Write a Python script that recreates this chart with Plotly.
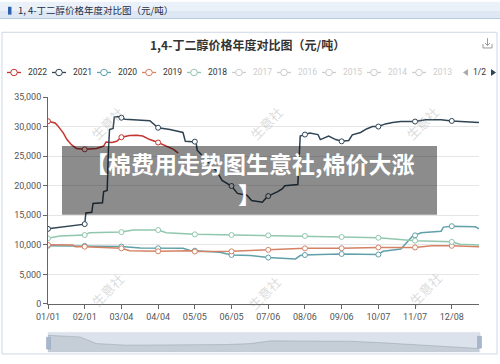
import plotly.graph_objects as go

# ---------------- data ----------------
tick_days = [0, 31, 62, 93, 124, 155, 186, 217, 248, 279, 310, 341]
tick_labels = ["01/01", "02/01", "03/04", "04/04", "05/05", "06/05",
               "07/06", "08/06", "09/06", "10/07", "11/07", "12/08"]
y_ticks = [0, 5000, 10000, 15000, 20000, 25000, 30000, 35000]

days_2022 = [0, 6, 8, 13, 16, 20, 24, 31, 41, 47, 49, 54, 58, 62, 69, 75, 80, 86, 93, 100, 106, 110]
vals_2022 = [30900, 30600, 30200, 28900, 27800, 26900, 26300, 26150, 26300, 26700, 27400, 27300,
             27500, 28200, 28500, 28550, 28400, 27800, 27300, 26700, 26150, 25500]

days_2021 = [0, 18, 31, 32, 37, 38, 46, 47, 50, 51, 52, 55, 56, 59, 62, 65, 86, 92, 93, 103, 114, 116,
             124, 125, 126, 137, 143, 147, 155, 160, 168, 172, 181, 185, 186, 194, 198, 200, 211, 213,
             217, 221, 228, 230, 237, 243, 248, 254, 257, 264, 269, 274, 279, 285, 291, 298, 310, 319,
             332, 341, 364]
vals_2021 = [12700, 13100, 13500, 15400, 15500, 17000, 17100, 19000, 19200, 26000, 29500, 29700,
             31600, 31700, 31500, 31250, 31000, 30000, 29800, 29500, 29000, 27500, 27450, 27400,
             26000, 23700, 22300, 20900, 19950, 18700, 18400, 17500, 17200, 18100, 18250, 19000,
             19500, 20000, 20200, 28400, 28650, 28900, 28650, 27800, 28400, 27800, 27500, 27650,
             28600, 29000, 29600, 30000, 30000, 30450, 30700, 30850, 30850, 31150, 31150, 30950, 30700]

days_2020 = [0, 31, 62, 78, 93, 114, 120, 124, 145, 155, 171, 186, 209, 213, 217, 230, 248, 279,
             283, 298, 303, 308, 310, 315, 332, 334, 341, 361, 364]
vals_2020 = [9850, 9820, 9700, 9450, 9420, 9400, 9050, 9000, 8730, 8280, 8180, 7850, 7620, 8180,
             8280, 8350, 8450, 8350, 8900, 9280, 10400, 11500, 11600, 12050, 12300, 13000, 13150,
             13050, 12700]

days_2019 = [0, 21, 23, 31, 62, 69, 93, 120, 124, 155, 186, 217, 248, 279, 310, 324, 341, 364]
vals_2019 = [10000, 9950, 9680, 9680, 9400, 9000, 8900, 9000, 8870, 8900, 9150, 9400, 9420, 9550,
             9550, 9830, 9830, 9680]

days_2018 = [0, 10, 31, 35, 62, 72, 93, 100, 124, 155, 186, 217, 230, 248, 279, 298, 310, 341, 348, 364]
vals_2018 = [11100, 11500, 11650, 12050, 12150, 12500, 12500, 12050, 11770, 11670, 11600, 11500,
             11500, 11330, 11200, 10950, 10700, 10500, 10100, 9950]

legend_years = ["2022", "2021", "2020", "2019", "2018", "2017", "2016", "2015", "2014", "2013"]
legend_active = [True, True, True, True, True, False, False, False, False, False]
palette = ["#c23531", "#2f4554", "#61a0a8", "#d48265", "#91c7ae"]

slider_days = [0, 27, 41, 66, 151, 171, 188, 255, 283, 340, 364]
slider_vals = [0.85, 0.77, 0.43, 0.35, 0.38, 0.43, 0.57, 0.55, 0.47, 0.27, 0.18]

header_text = "1, 4-丁二醇价格年度对比图（元/吨）"
chart_title = "1,4-丁二醇价格年度对比图（元/吨）"
overlay_lines = ["【棉费用走势图生意社,棉价大涨", "】"]
watermark = "生意社"

# ---------------- geometry helpers ----------------
W, H = 500, 364
ML, MR, MT, MB = 48, 21, 97, 7
PW = W - ML - MR
PH = H - MT - MB


def px(x):
    return (x - ML) / PW


def py(y):
    return (H - MB - y) / PH


def rect(x0, y0, x1, y1, **kw):
    d = dict(type="rect", xref="paper", yref="paper",
             x0=px(x0), x1=px(x1), y0=py(y1), y1=py(y0))
    d.update(kw)
    return d


def line(x0, y0, x1, y1, color, width=1, layer="above"):
    return dict(type="line", xref="paper", yref="paper", x0=px(x0), x1=px(x1),
                y0=py(y0), y1=py(y1), line=dict(color=color, width=width), layer=layer)


CJK = "Noto Sans CJK SC"
NUM = "Roboto"

fig = go.Figure()

series = [("2022", days_2022, vals_2022), ("2021", days_2021, vals_2021),
          ("2020", days_2020, vals_2020), ("2019", days_2019, vals_2019),
          ("2018", days_2018, vals_2018)]

for i, (name, d, v) in enumerate(series):
    col = palette[i]
    fig.add_trace(go.Scatter(x=d, y=v, mode="lines", name=name,
                             line=dict(color=col, width=1.5), hoverinfo="skip"))
    md = [dd for dd in d if dd in tick_days]
    mv = [vv for dd, vv in zip(d, v) if dd in tick_days]
    fig.add_trace(go.Scatter(x=md, y=mv, mode="markers", showlegend=False,
                             marker=dict(symbol="circle", size=5, color="white",
                                         line=dict(color=col, width=1)), hoverinfo="skip"))

# slider data shadow
fig.add_trace(go.Scatter(x=slider_days, y=slider_vals, mode="lines", xaxis="x2", yaxis="y2",
                         fill="tozeroy", fillcolor="rgba(47,69,84,0.13)",
                         line=dict(color="rgba(47,69,84,0.3)", width=0.6), hoverinfo="skip"))

shapes = []
# header bar
shapes.append(rect(0, 0, 500, 9, fillcolor="#eaf1f9", line=dict(width=0), layer="below"))
shapes.append(rect(0, 9, 500, 17, fillcolor="#dde8f4", line=dict(width=0), layer="below"))
shapes.append(line(0, 17, 500, 17, "#b4c8e0", 1, "below"))
shapes.append(rect(8, 5, 11.5, 13, fillcolor="#2f62b0", line=dict(width=0), layer="below"))
# panel
shapes.append(rect(2, 31, 497, 359, fillcolor="white", line=dict(color="#cdd8e5", width=1), layer="below"))
# slider background
shapes.append(rect(48, 337, 480, 357, fillcolor="rgba(167,183,204,0.4)",
                   line=dict(color="#d5dbe3", width=0.5), layer="below"))
shapes.append(rect(46.5, 342, 50.5, 354, fillcolor="#a7b7cc", line=dict(color="#8fa2bb", width=0.5)))
shapes.append(rect(477.5, 341, 481.5, 353, fillcolor="#a7b7cc", line=dict(color="#8fa2bb", width=0.5)))

# download icon
ic = "#9a9a9a"
shapes.append(line(487.5, 37, 487.5, 44.5, ic))
shapes.append(line(485, 42, 487.5, 44.5, ic))
shapes.append(line(490, 42, 487.5, 44.5, ic))
shapes.append(line(483, 43, 483, 47, ic))
shapes.append(line(483, 47, 492, 47, ic))
shapes.append(line(492, 47, 492, 43, ic))

annotations = []
# header and title
annotations.append(dict(text=header_text, xref="paper", yref="paper", x=px(16), y=py(8.5),
                        xanchor="left", yanchor="middle", showarrow=False,
                        font=dict(family=CJK, size=9.5, color="#1e2d45")))
annotations.append(dict(text="<b>" + chart_title + "</b>", xref="paper", yref="paper",
                        x=px(247), y=py(43), xanchor="center", yanchor="middle", showarrow=False,
                        font=dict(family=CJK, size=12, color="#333333")))

# manual legend
for i, yr in enumerate(legend_years):
    s = 7 + 45 * i
    cy = 72
    col = palette[i] if legend_active[i] else "#cccccc"
    tcol = "#333333" if legend_active[i] else "#cccccc"
    shapes.append(line(s, cy, s + 14, cy, col, 1.3))
    shapes.append(dict(type="circle", xref="paper", yref="paper",
                       x0=px(s + 7 - 3.3), x1=px(s + 7 + 3.3), y0=py(cy + 3.3), y1=py(cy - 3.3),
                       fillcolor="white", line=dict(color=col, width=1)))
    annotations.append(dict(text=yr, xref="paper", yref="paper", x=px(s + 19), y=py(cy),
                            xanchor="left", yanchor="middle", showarrow=False,
                            font=dict(family=NUM, size=8.5, color=tcol)))

# legend page controls
shapes.append(dict(type="path", xref="paper", yref="paper",
                   path="M {} {} L {} {} L {} {} Z".format(px(463), py(72), px(468), py(68.5), px(468), py(75.5)),
                   fillcolor="#aaaaaa", line=dict(width=0)))
shapes.append(dict(type="path", xref="paper", yref="paper",
                   path="M {} {} L {} {} L {} {} Z".format(px(496), py(72), px(491), py(68.5), px(491), py(75.5)),
                   fillcolor="#2f4554", line=dict(width=0)))
annotations.append(dict(text="1/2", xref="paper", yref="paper", x=px(479.5), y=py(72),
                        xanchor="center", yanchor="middle", showarrow=False,
                        font=dict(family=NUM, size=8.5, color="#333333")))

# watermarks
for (wx, wy) in [(107, 124), (266, 124), (422, 124), (107, 294), (264, 297), (425, 293)]:
    annotations.append(dict(text=watermark, xref="paper", yref="paper", x=px(wx), y=py(wy),
                            xanchor="center", yanchor="middle", showarrow=False, textangle=-45,
                            font=dict(family=CJK, size=13, color="rgba(150,150,150,0.35)")))

# overlay caption box
shapes.append(rect(62, 147, 437, 217, fillcolor="rgba(0,0,0,0.45)", line=dict(width=0), layer="above"))
for txt, ty in zip(overlay_lines, [164, 196]):
    annotations.append(dict(text="<b>" + txt + "</b>", xref="paper", yref="paper",
                            x=px(249), y=py(ty), xanchor="center", yanchor="middle", showarrow=False,
                            borderpad=0, font=dict(family=CJK, size=23, color="white")))

fig.update_layout(
    width=W, height=H,
    margin=dict(l=ML, r=MR, t=MT, b=MB, pad=0),
    paper_bgcolor="white", plot_bgcolor="rgba(0,0,0,0)",
    showlegend=False,
    shapes=shapes, annotations=annotations,
    xaxis=dict(range=[0, 364], tickvals=tick_days, ticktext=tick_labels, ticks="outside",
               ticklen=4, tickcolor="#666666", showline=True, linecolor="#666666", linewidth=1,
               showgrid=False, zeroline=False, anchor="y",
               tickfont=dict(family=NUM, size=9, color="#555555")),
    yaxis=dict(range=[0, 35000], domain=[(H - MB - 308) / PH, 1], tickvals=y_ticks,
               tickformat=",d", ticks="outside", ticklen=4, tickcolor="#666666",
               showline=True, linecolor="#666666", linewidth=1, gridcolor="#e6e6e6",
               zeroline=False, tickfont=dict(family=NUM, size=9, color="#555555")),
    xaxis2=dict(range=[0, 364], domain=[0, 1], anchor="y2", visible=False),
    yaxis2=dict(range=[0, 1], domain=[0, 20 / PH], anchor="x2", visible=False),
)

fig.write_html("out.html")
